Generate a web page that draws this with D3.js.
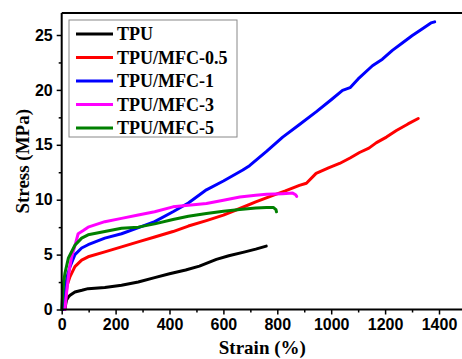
<!DOCTYPE html>
<html>
<head>
<meta charset="utf-8">
<script src="https://cdn.jsdelivr.net/npm/d3@7"></script>
<style>
  body { margin: 0; background: #fff; }
  svg { display: block; }
</style>
</head>
<body>
<div id="chart"></div>
<script>
// series names and colors
const seriesNames = ['TPU', 'TPU/MFC-0.5', 'TPU/MFC-1', 'TPU/MFC-3', 'TPU/MFC-5'];
const seriesColors = ['#000000', '#ff0000', '#0000ff', '#ff00ff', '#008000'];

// strain (%) / stress (MPa)
const tpuStrain = [12, 15, 18, 25, 31, 49, 75, 98, 160, 222, 284, 345, 400, 460, 511, 574, 620, 680, 720, 759];
const tpuStress = [0, 0.5, 0.86, 1.15, 1.3, 1.6, 1.75, 1.9, 2.0, 2.2, 2.5, 2.9, 3.25, 3.6, 3.95, 4.56, 4.9, 5.25, 5.5, 5.77];

const mfc05Strain = [10, 15, 20, 31, 49, 74, 98, 160, 222, 290, 345, 413, 470, 537, 600, 661, 720, 784, 830, 882, 908, 944, 990, 1031, 1070, 1105, 1140, 1168, 1205, 1242, 1285, 1323];
const mfc05Stress = [0, 1.2, 2.2, 3.0, 3.9, 4.5, 4.8, 5.25, 5.7, 6.2, 6.6, 7.1, 7.6, 8.1, 8.6, 9.2, 9.8, 10.4, 10.8, 11.3, 11.5, 12.4, 12.9, 13.3, 13.8, 14.3, 14.7, 15.2, 15.7, 16.3, 16.9, 17.4];

const mfc1Strain = [6, 12, 20, 31, 49, 74, 98, 160, 222, 290, 345, 413, 470, 537, 600, 672, 697, 760, 820, 880, 944, 1000, 1042, 1070, 1100, 1153, 1190, 1227, 1265, 1301, 1340, 1370, 1384];
const mfc1Stress = [0, 1.5, 3.0, 3.9, 5.0, 5.6, 5.9, 6.5, 6.9, 7.5, 8.0, 8.9, 9.7, 10.9, 11.7, 12.7, 13.1, 14.4, 15.7, 16.8, 18.0, 19.1, 19.95, 20.2, 21.0, 22.2, 22.8, 23.6, 24.3, 24.95, 25.6, 26.1, 26.2];

const mfc3Strain = [12, 18, 25, 30, 37, 49, 61, 80, 98, 160, 222, 284, 345, 413, 470, 537, 600, 661, 720, 760, 820, 857, 868, 872];
const mfc3Stress = [0, 1.5, 3.0, 3.9, 4.8, 5.8, 6.9, 7.2, 7.5, 8.0, 8.3, 8.6, 8.9, 9.35, 9.5, 9.65, 9.95, 10.25, 10.4, 10.5, 10.55, 10.6, 10.45, 10.3];

const mfc5Strain = [0, 4, 8, 12, 25, 49, 74, 98, 160, 222, 284, 345, 413, 470, 537, 600, 661, 720, 760, 785, 795, 797];
const mfc5Stress = [0, 1.5, 2.6, 3.3, 4.7, 5.85, 6.5, 6.8, 7.1, 7.4, 7.5, 7.8, 8.2, 8.5, 8.75, 8.95, 9.1, 9.25, 9.3, 9.3, 9.1, 8.9];

const xTicks = [0, 200, 400, 600, 800, 1000, 1200, 1400];
const yTicks = [0, 5, 10, 15, 20, 25];

const allStrain = [tpuStrain, mfc05Strain, mfc1Strain, mfc3Strain, mfc5Strain];
const allStress = [tpuStress, mfc05Stress, mfc1Stress, mfc3Stress, mfc5Stress];

const W = 462;
const H = 359;

const svg = d3
  .select('#chart')
  .append('svg')
  .attr('width', W)
  .attr('height', H);

// scales
const x = d3.scaleLinear().domain([0, 1400]).range([61.7, 439]);
const y = d3.scaleLinear().domain([0, 25]).range([309.5, 35]);

const plotTop = y(27);
const plotRight = x(1520);

// curves
const line = d3
  .line()
  .x((d) => x(d[0]))
  .y((d) => y(d[1]));

seriesNames.forEach((name, i) => {
  const pts = allStrain[i].map((s, k) => [s, allStress[i][k]]);
  svg
    .append('path')
    .datum(pts)
    .attr('fill', 'none')
    .attr('stroke', seriesColors[i])
    .attr('stroke-width', 3)
    .attr('stroke-linejoin', 'round')
    .attr('stroke-linecap', 'round')
    .attr('d', line);
});

// top frame line
svg
  .append('line')
  .attr('x1', x(0))
  .attr('x2', plotRight)
  .attr('y1', plotTop)
  .attr('y2', plotTop)
  .attr('stroke', '#000')
  .attr('stroke-width', 2);

// X axis
const xAxis = svg
  .append('g')
  .attr('transform', `translate(0,${y(0)})`)
  .call(
    d3.axisBottom(x)
      .tickValues(xTicks)
      .tickFormat(d3.format('d'))
      .tickSize(5)
      .tickSizeOuter(0)
      .tickPadding(4),
  );

// minor x ticks
svg
  .append('g')
  .attr('transform', `translate(0,${y(0)})`)
  .call(d3.axisBottom(x).tickValues(d3.range(100, 1500, 200)).tickSize(3).tickFormat(''))
  .call((g) => g.select('.domain').remove());

xAxis.select('.domain').attr('d', `M${x(0)},0H${plotRight}`);

// Y axis
const yAxis = svg
  .append('g')
  .attr('transform', `translate(${x(0)},0)`)
  .call(d3.axisLeft(y).tickValues(yTicks).tickSize(5).tickSizeOuter(0).tickPadding(4));

svg
  .append('g')
  .attr('transform', `translate(${x(0)},0)`)
  .call(d3.axisLeft(y).tickValues([2.5, 7.5, 12.5, 17.5, 22.5]).tickSize(3).tickFormat(''))
  .call((g) => g.select('.domain').remove());

yAxis.select('.domain').attr('d', `M0,${y(0)}V${plotTop}`);

svg.selectAll('.domain').attr('stroke-width', 2);
svg.selectAll('.tick line').attr('stroke-width', 1.5);

svg
  .selectAll('.tick text')
  .style('font-family', '"Liberation Sans", Arial, sans-serif')
  .style('font-weight', 'bold')
  .style('font-size', '16px')
  .attr('fill', '#000');

// axis titles
svg
  .append('text')
  .attr('x', (x(0) + x(1400)) / 2 + 12)
  .attr('y', 354)
  .attr('text-anchor', 'middle')
  .style('font-family', '"Liberation Serif", "Times New Roman", serif')
  .style('font-weight', 'bold')
  .style('font-size', '19px')
  .text('Strain (%)');

svg
  .append('text')
  .attr('transform', `translate(29,${(y(0) + plotTop) / 2}) rotate(-90)`)
  .attr('text-anchor', 'middle')
  .style('font-family', '"Liberation Serif", "Times New Roman", serif')
  .style('font-weight', 'bold')
  .style('font-size', '19px')
  .text('Stress (MPa)');

// legend
const legend = svg.append('g').attr('transform', 'translate(69,20)');

legend
  .append('rect')
  .attr('width', 168)
  .attr('height', 117)
  .attr('fill', '#fff')
  .attr('stroke', '#888')
  .attr('stroke-width', 1);

seriesNames.forEach((name, i) => {
  const row = legend.append('g').attr('transform', `translate(0,${14 + i * 23.5})`);
  row
    .append('line')
    .attr('x1', 7)
    .attr('x2', 44)
    .attr('stroke', seriesColors[i])
    .attr('stroke-width', 3);
  row
    .append('text')
    .attr('x', 48)
    .attr('y', 6)
    .style('font-family', '"Liberation Serif", "Times New Roman", serif')
    .style('font-weight', 'bold')
    .style('font-size', '18px')
    .text(name);
});
</script>
</body>
</html>
